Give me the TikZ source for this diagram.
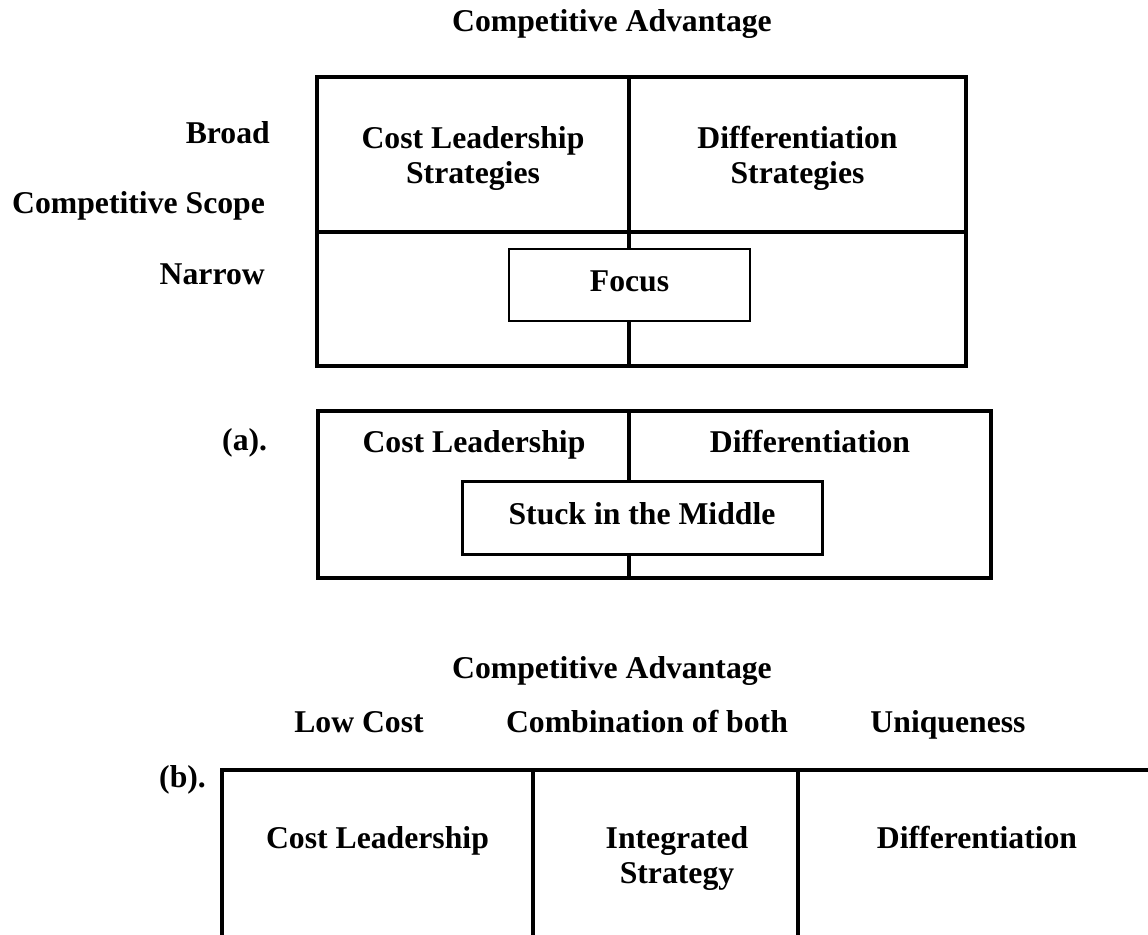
\documentclass[tikz,border=0pt]{standalone}
\usepackage{fontspec}
\setmainfont{Liberation Serif}
\tikzset{
  frame/.style={line width=3.5pt, line cap=rect},
  lbl/.style={font=\fontsize{31.7}{35}\selectfont\bfseries, inner sep=0pt, align=center},
  focusbox/.style={lbl, draw, fill=white, line width=1.5pt, minimum width=241pt, minimum height=72pt, text height=22pt, text depth=10pt},
  stuckbox/.style={lbl, draw, fill=white, line width=3pt, minimum width=360pt, minimum height=73pt, text height=22pt, text depth=10pt}
}
\begin{document}
\begin{tikzpicture}[x=1pt,y=-1pt]
\useasboundingbox (0,0) rectangle (1148,934);
\clip (0,0) rectangle (1148,934);
% ---- top figure ----
\node[lbl, anchor=base] (title1) at (612,32) {Competitive Advantage};
\node[lbl, anchor=base east] (broad) at (270,143) {Broad};
\node[lbl, anchor=base west] (scope) at (12,213) {Competitive Scope};
\node[lbl, anchor=base east] (narrow) at (265,284) {Narrow};
\draw[frame] (317,77) rectangle (966,366);
\draw[frame] (317,232) -- (966,232);
\draw[frame] (629,77) -- (629,366);
\node[lbl] (clstrat) at (473,158) {Cost Leadership\\Strategies};
\node[lbl] (difstrat) at (797.5,158) {Differentiation\\Strategies};
\node[focusbox] (focus) at (629.5,285) {Focus};
% ---- figure (a) ----
\node[lbl, anchor=base west] (alabel) at (222,450) {(a).};
\draw[frame] (318,411) rectangle (991,578);
\draw[frame] (629,411) -- (629,578);
\node[lbl, anchor=base] (cla) at (474,452) {Cost Leadership};
\node[lbl, anchor=base] (difa) at (810,452) {Differentiation};
\node[stuckbox] (stuck) at (642,518) {Stuck in the Middle};
% ---- figure (b) ----
\node[lbl, anchor=base] (title2) at (612,678) {Competitive Advantage};
\node[lbl, anchor=base] (lowcost) at (359,732) {Low Cost};
\node[lbl, anchor=base] (combo) at (647,732) {Combination of both};
\node[lbl, anchor=base] (unique) at (948,732) {Uniqueness};
\node[lbl, anchor=base west] (blabel) at (159,787) {(b).};
\draw[frame] (1170,770) -- (222,770) -- (222,960);
\draw[frame] (533,770) -- (533,960);
\draw[frame] (798,770) -- (798,960);
\node[lbl, anchor=base] (clb) at (377.5,848) {Cost Leadership};
\node[lbl] (integ) at (677,858) {Integrated\\Strategy};
\node[lbl, anchor=base] (difb) at (977,848) {Differentiation};
\end{tikzpicture}
\end{document}
